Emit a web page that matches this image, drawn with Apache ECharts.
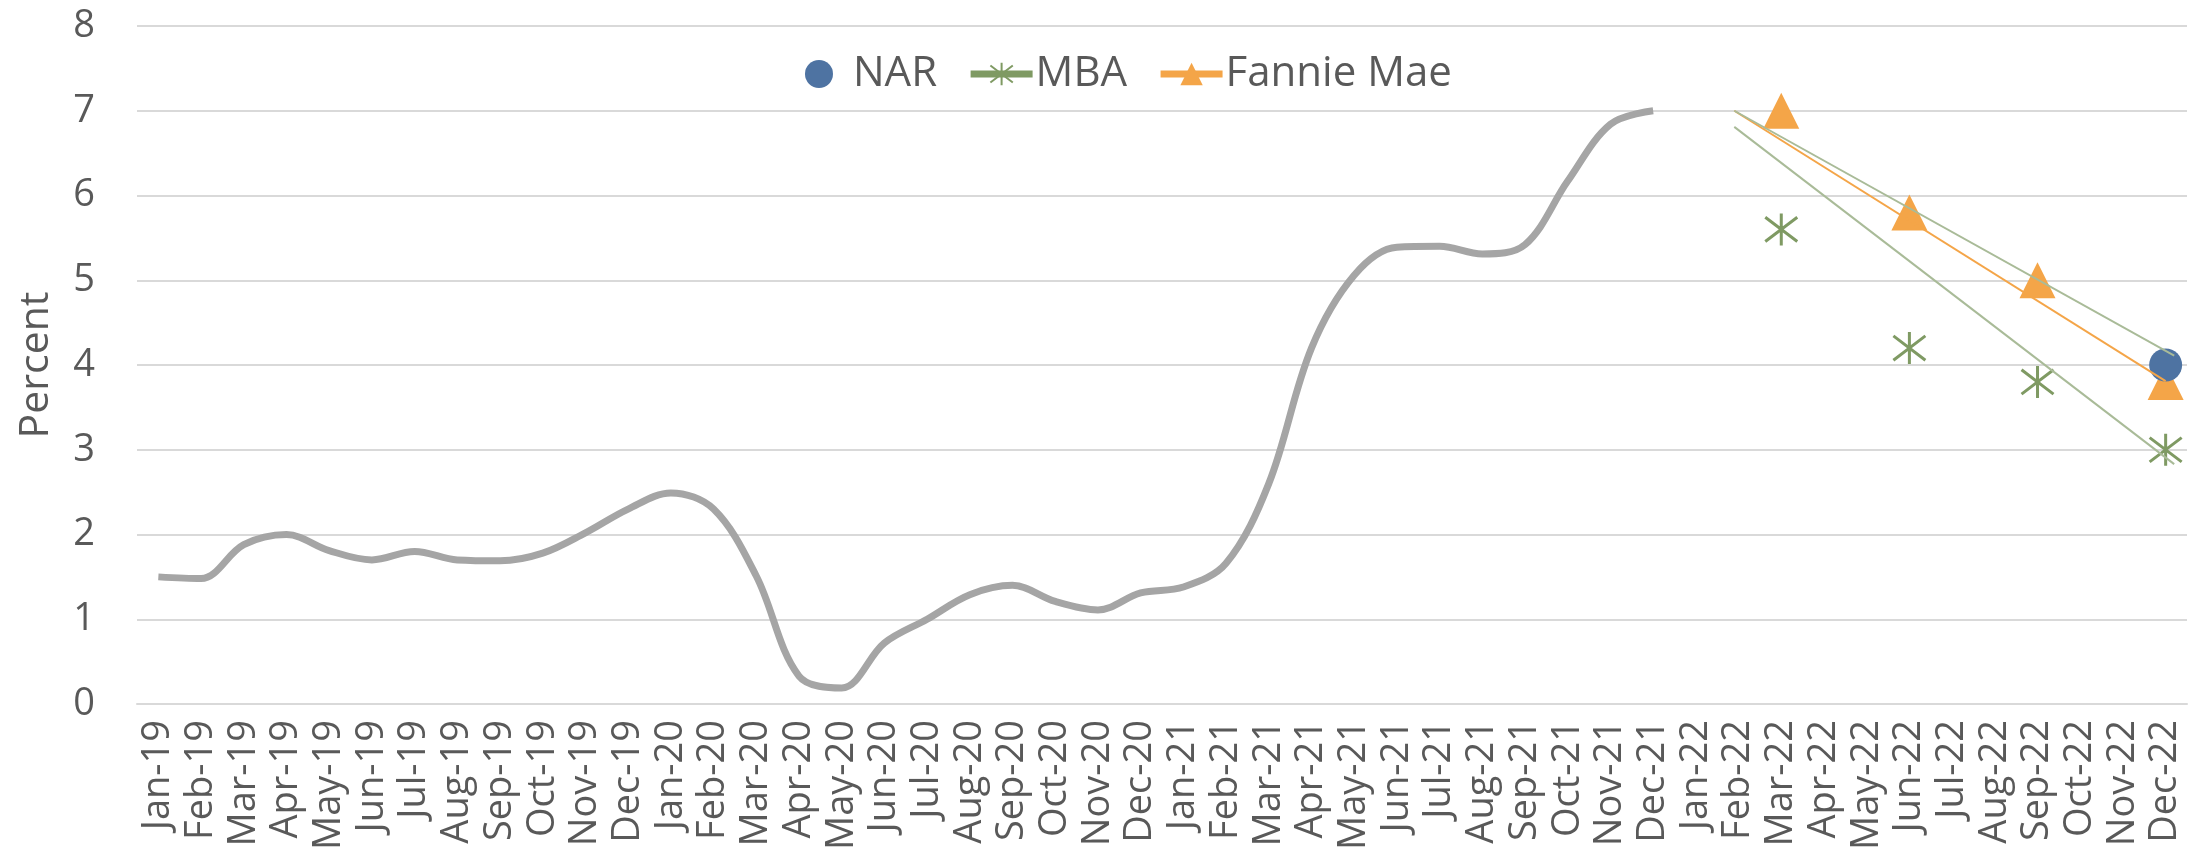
<!DOCTYPE html>
<html>
<head>
<meta charset="utf-8">
<script src="https://cdn.jsdelivr.net/npm/echarts@6/dist/echarts.min.js"></script>
<style>
  html, body { margin: 0; padding: 0; background: #fff; }
  #myChart { width: 2200px; height: 858px; }
</style>
</head>
<body>
<div id="myChart"></div>
<script>
// x axis tick labels
var months = [
  'Jan-19', 'Feb-19', 'Mar-19', 'Apr-19', 'May-19', 'Jun-19', 'Jul-19', 'Aug-19', 'Sep-19', 'Oct-19', 'Nov-19', 'Dec-19',
  'Jan-20', 'Feb-20', 'Mar-20', 'Apr-20', 'May-20', 'Jun-20', 'Jul-20', 'Aug-20', 'Sep-20', 'Oct-20', 'Nov-20', 'Dec-20',
  'Jan-21', 'Feb-21', 'Mar-21', 'Apr-21', 'May-21', 'Jun-21', 'Jul-21', 'Aug-21', 'Sep-21', 'Oct-21', 'Nov-21', 'Dec-21',
  'Jan-22', 'Feb-22', 'Mar-22', 'Apr-22', 'May-22', 'Jun-22', 'Jul-22', 'Aug-22', 'Sep-22', 'Oct-22', 'Nov-22', 'Dec-22'
]
// grey line, Jan-19 .. Dec-21
var actual = [
  1.5, 1.48, 1.88, 2.0, 1.81, 1.7, 1.8, 1.7, 1.69, 1.78, 2.02, 2.3,
  2.49, 2.3, 1.51, 0.33, 0.19, 0.72, 1.0, 1.29, 1.4, 1.21, 1.11, 1.31,
  1.38, 1.66, 2.6, 4.2, 5.06, 5.39, 5.4, 5.31, 5.42, 6.17, 6.84, 7.0
]
// forecasts
var forecastMonths = ['Mar-22', 'Jun-22', 'Sep-22', 'Dec-22']
var nar = [null, null, null, 4.0]
var mba = [5.6, 4.2, 3.8, 3.0]
var fannie = [7.0, 5.8, 5.0, 3.8]
// trend lines, x in category index units
var fannieTrend = [[36.9, 7.0], [47.0, 3.81]]
var mbaTrendHigh = [[36.9, 7.0], [47.2, 4.11]]
var mbaTrendLow = [[36.9, 6.81], [47.2, 2.83]]

// spread forecast values over the full month list (nulls elsewhere)
function spread (vals) {
  return months.map(function (m) {
    var i = forecastMonths.indexOf(m)
    return i < 0 ? null : vals[i]
  })
}

var textColor = '#595959'
var font = 'Open Sans'
var green = '#7F9A63'
var orange = '#F4A548'
var blue = '#4E73A2'
var asterisk = 'path://M50,0L50,100M8,12L92,88M92,12L8,88'

var myChart = echarts.init(document.getElementById('myChart'))
myChart.setOption({
  animation: false,
  textStyle: { fontFamily: font },
  grid: { left: 137, right: 13, top: 26, bottom: 154 },
  legend: {
    left: 800,
    top: 48,
    itemWidth: 62,
    itemHeight: 28,
    itemGap: 30,
    textStyle: { fontSize: 42, color: textColor, fontFamily: font, padding: [0, 0, 0, -2] },
    data: [
      { name: 'NAR', icon: 'circle', itemStyle: { color: blue } },
      {
        name: 'MBA',
        lineStyle: { color: green, width: 7, opacity: 1 },
        itemStyle: { color: 'rgba(0,0,0,0)', borderColor: green, borderWidth: 2 }
      },
      {
        name: 'Fannie Mae',
        lineStyle: { color: orange, width: 7, opacity: 1 },
        itemStyle: { color: orange }
      }
    ]
  },
  xAxis: [
    {
      type: 'category',
      data: months,
      boundaryGap: true,
      axisLine: { lineStyle: { color: '#D9D9D9', width: 2 } },
      axisTick: { show: false },
      axisLabel: { rotate: 90, interval: 0, fontSize: 38, color: textColor, margin: 16 }
    },
    {
      type: 'value',
      show: false,
      min: -0.5,
      max: 47.5
    }
  ],
  yAxis: {
    type: 'value',
    min: 0,
    max: 8,
    interval: 1,
    name: 'Percent',
    nameLocation: 'middle',
    nameGap: 80,
    nameTextStyle: { fontSize: 41, color: textColor },
    axisLine: { show: false },
    axisTick: { show: false },
    axisLabel: { fontSize: 38, color: textColor, margin: 42 },
    splitLine: { lineStyle: { color: '#D9D9D9', width: 2 } }
  },
  series: [
    {
      name: 'Actual',
      type: 'line',
      data: actual,
      smooth: 0.35,
      symbol: 'none',
      lineStyle: { color: '#A5A5A5', width: 7 }
    },
    {
      name: 'NAR',
      type: 'line',
      data: spread(nar),
      symbol: 'circle',
      symbolSize: 33,
      showAllSymbol: true,
      itemStyle: { color: blue },
      lineStyle: { color: blue, width: 0 },
      z: 3
    },
    {
      name: 'MBA',
      type: 'line',
      data: spread(mba),
      symbol: asterisk,
      symbolSize: 32,
      showAllSymbol: true,
      itemStyle: { color: 'rgba(0,0,0,0)', borderColor: green, borderWidth: 3 },
      lineStyle: { color: green, width: 6 },
      z: 3
    },
    {
      name: 'Fannie Mae',
      type: 'line',
      data: spread(fannie),
      symbol: 'triangle',
      symbolSize: [36, 36],
      showAllSymbol: true,
      itemStyle: { color: orange },
      lineStyle: { color: orange, width: 6 },
      z: 2
    },
    {
      name: 'Fannie Mae trend',
      type: 'line',
      xAxisIndex: 1,
      data: fannieTrend,
      symbol: 'none',
      lineStyle: { color: orange, width: 2 },
      z: 4
    },
    {
      name: 'MBA trend high',
      type: 'line',
      xAxisIndex: 1,
      data: mbaTrendHigh,
      symbol: 'none',
      lineStyle: { color: '#A9BB98', width: 2 },
      z: 4
    },
    {
      name: 'MBA trend low',
      type: 'line',
      xAxisIndex: 1,
      data: mbaTrendLow,
      symbol: 'none',
      lineStyle: { color: '#A9BB98', width: 2 },
      z: 4
    }
  ]
})
</script>
</body>
</html>
